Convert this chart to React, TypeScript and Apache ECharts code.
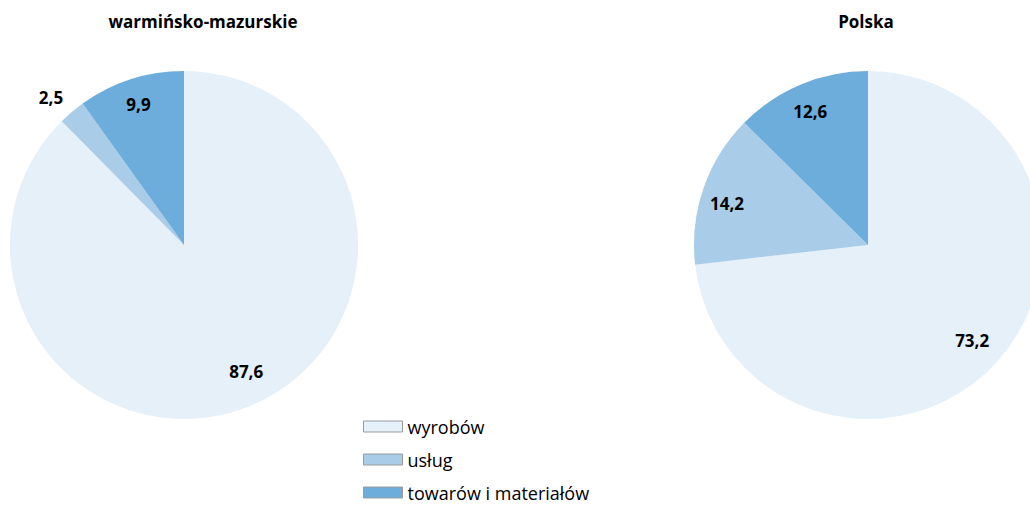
import React, { useEffect, useRef } from "react";
import * as echarts from "echarts";

const categories = ["wyrobów", "usług", "towarów i materiałów"];
const regionValues = [87.6, 2.5, 9.9];
const polandValues = [73.2, 14.2, 12.6];
const chartTitles = ["warmińsko-mazurskie", "Polska"];
const colors = ["#e5f0f9", "#a9cde9", "#6daddb"];
const regionLabelOffsets = [[28, 43], [-75, -79], [-18, -55]];
const polandLabelOffsets = [[37, 36], [-56, -12], [-23, -50]];

const FONT = "'Open Sans', Lato, 'Noto Sans', sans-serif";

function buildData(values: number[], offsets: number[][]) {
  return values.map((v, i) => ({
    name: categories[i],
    value: v,
    itemStyle: { color: colors[i] },
    label: { offset: offsets[i] },
  }));
}

export default function App() {
  const ref = useRef<HTMLDivElement>(null);
  useEffect(() => {
    if (!ref.current) return;
    const chart = echarts.init(ref.current, null, { renderer: "svg" });
    const labelCfg = {
      show: true,
      position: "inside" as const,
      formatter: (p: any) => String(p.value.toFixed(1)).replace(".", ","),
      fontFamily: FONT,
      fontWeight: "bold" as const,
      fontSize: 17,
      color: "#000",
    };
    const titleStyle = { fontFamily: FONT, fontWeight: "bold" as const, fontSize: 17, color: "#000" };
    chart.setOption({
      animation: false,
      backgroundColor: "#ffffff",
      title: [
        { text: chartTitles[0], left: 203, top: 13, textAlign: "center", padding: 0, textStyle: titleStyle },
        { text: chartTitles[1], left: 866, top: 13, textAlign: "center", padding: 0, textStyle: titleStyle },
      ],
      legend: {
        orient: "vertical",
        left: 363,
        top: 417,
        height: 200,
        padding: 0,
        itemWidth: 39,
        itemHeight: 11,
        itemGap: 14,
        icon: "rect",
        data: categories,
        selectedMode: false,
        itemStyle: { borderColor: "#9a9a9a", borderWidth: 1 },
        textStyle: { fontFamily: FONT, fontSize: 18, lineHeight: 19, color: "#000" },
      },
      series: [
        {
          type: "pie",
          center: [184, 245],
          radius: 174,
          startAngle: 90,
          clockwise: true,
          silent: true,
          label: labelCfg,
          labelLine: { show: false },
          itemStyle: { borderWidth: 0 },
          emphasis: { disabled: true },
          data: buildData(regionValues, regionLabelOffsets),
        },
        {
          type: "pie",
          center: [868, 245],
          radius: 174,
          startAngle: 90,
          clockwise: true,
          silent: true,
          label: labelCfg,
          labelLine: { show: false },
          itemStyle: { borderWidth: 0 },
          emphasis: { disabled: true },
          data: buildData(polandValues, polandLabelOffsets),
        },
      ],
    });
    return () => chart.dispose();
  }, []);
  return (
    <div
      ref={ref}
      style={{ position: "absolute", left: 0, top: 0, width: 1030, height: 505 }}
    />
  );
}
